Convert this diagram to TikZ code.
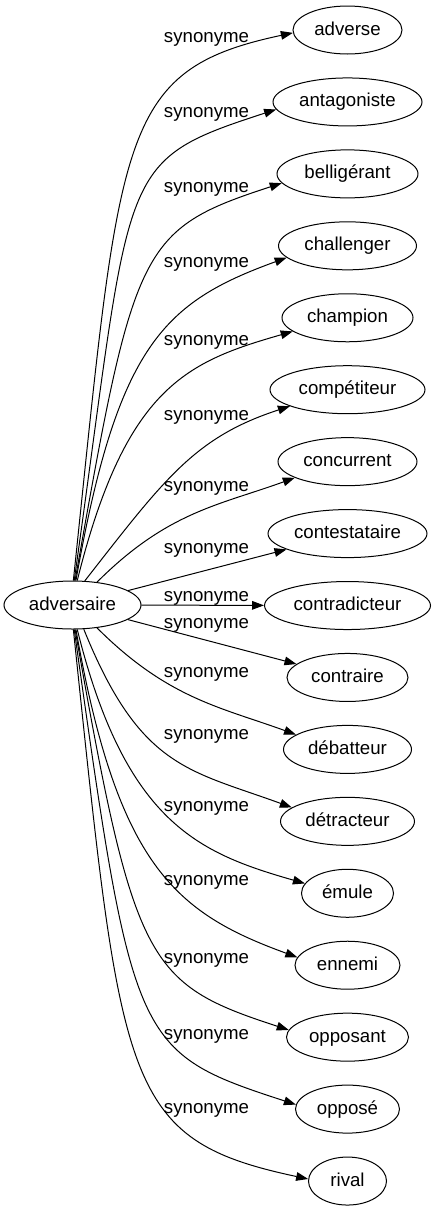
\documentclass[tikz,border=0pt]{standalone}
\usepackage{fontspec}
\setmainfont{Liberation Sans}
\usetikzlibrary{shapes,arrows.meta}

\tikzset{
	word/.style={draw, ellipse, line width=0.75pt, minimum height=48*0.75pt, inner sep=1pt, text height=10.5pt, text depth=3pt},
	syn/.style={line width=0.75pt, -{Triangle[length=9pt,width=6.5pt]}},
	rel/.style={anchor=base, inner sep=0pt}
}

\begin{document}
\begin{tikzpicture}[x=0.75pt, y=0.75pt, font=\fontsize{14}{16}\selectfont]
	\useasboundingbox (0,0) rectangle (436,-1211);

	\node[word, minimum width=137*0.75pt] (adv) at (72.5,-605) {adversaire};

	\foreach \n/\txt/\w [count=\i from 0] in {adverse/adverse/109, antagoniste/antagoniste/149, belligerant/belligérant/141, challenger/challenger/138, champion/champion/131, competiteur/compétiteur/155, concurrent/concurrent/139, contestataire/contestataire/159, contradicteur/contradicteur/166, contraire/contraire/121, debatteur/débatteur/128, detracteur/détracteur/134, emule/émule/92, ennemi/ennemi/105, opposant/opposant/122, oppose/opposé/104, rival/rival/78}
		\node[word, minimum width=\w*0.75pt] (\n) at (347.5,{-30-71.94*\i}) {\txt};

	\foreach \y [count=\k] in {42.7, 117.7, 192.7, 267.7, 345, 420, 491.7, 553, 601.7, 628, 677, 739, 811, 885.6, 963, 1039, 1113}
		\node[rel] (l\k) at (206.5,-\y) {synonyme};

	\foreach \n/\sa/\oa/\da/\ia/\db/\ta in {adverse/88/84/450/192/180/183, antagoniste/86/82/420/198/170/186, belligerant/84/80/340/198/150/188, challenger/82/80/240/200/130/191, champion/79/76/200/196/110/194, competiteur/63/52/130/198/100/196, concurrent/43/45/100/200/80/197, debatteur/317/315/100/160/80/164, detracteur/295/292/150/160/110/166, emule/281/284/200/164/110/167, ennemi/278/280/240/160/130/171, opposant/276/280/340/162/150/173, oppose/274/278/420/162/170/175, rival/272/276/460/168/190/177}
		\draw[syn] (adv.\sa) .. controls +(\oa:\da) and +(\ia:\db) .. (\n.\ta);

	\draw[syn] (adv) -- (contestataire);
	\draw[syn] (adv) -- (contradicteur);
	\draw[syn] (adv) -- (contraire);
\end{tikzpicture}
\end{document}
